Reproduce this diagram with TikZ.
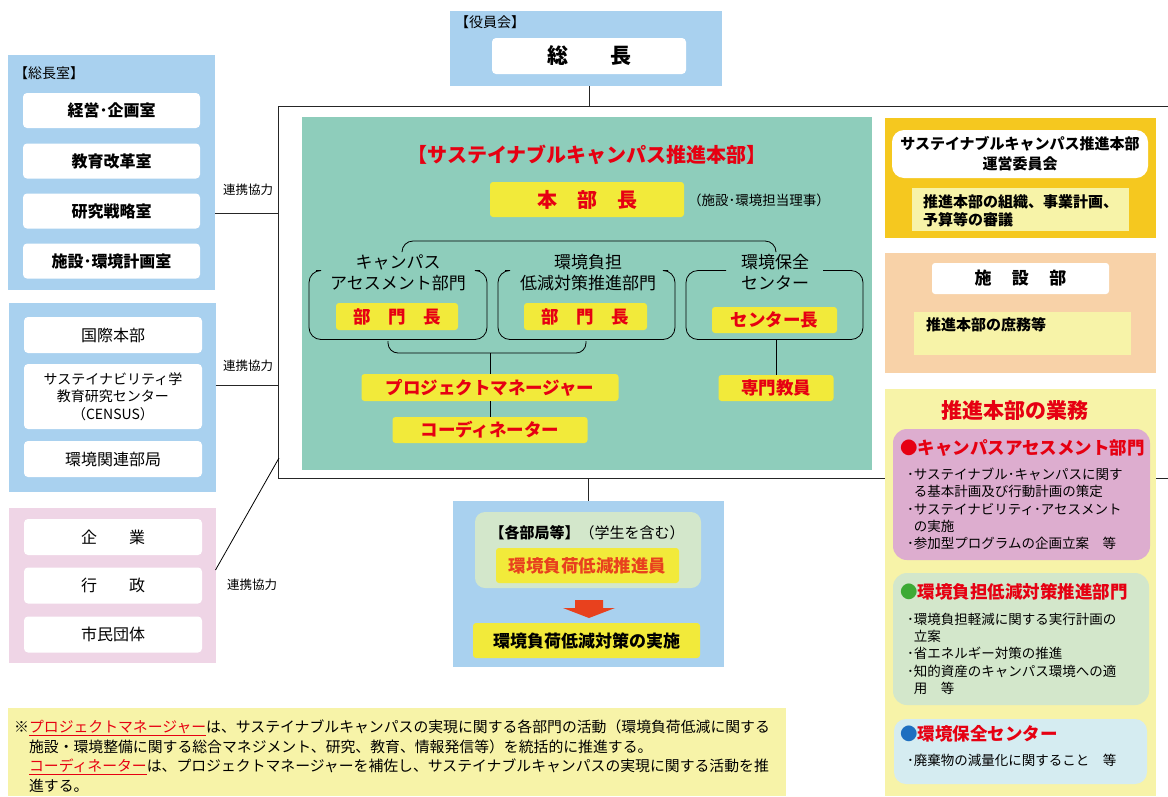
\documentclass[tikz,border=0pt]{standalone}
\usepackage{fontspec}
\setmainfont{Noto Sans CJK JP}
\usetikzlibrary{calc}
\definecolor{lblue}{HTML}{A9D1EF}
\definecolor{tgreen}{HTML}{8ECDBB}
\definecolor{yelbox}{HTML}{F2EA3A}
\definecolor{jred}{HTML}{E60012}
\definecolor{ored}{HTML}{E8411E}
\definecolor{gold}{HTML}{F5C81F}
\definecolor{peach}{HTML}{F8D2A8}
\definecolor{pale}{HTML}{F7F3A8}
\definecolor{lpink}{HTML}{EFD5E6}
\definecolor{mauve}{HTML}{DDADCF}
\definecolor{pgreen}{HTML}{D3E7CB}
\definecolor{pblue}{HTML}{D5ECF1}
\definecolor{dotgreen}{HTML}{3DAA35}
\definecolor{dotblue}{HTML}{1E6FC0}
\newcommand\fz[2]{\fontsize{#1}{#2}\selectfont}
\begin{document}
\begin{tikzpicture}[x=1pt,y=-1pt,
  box/.style={inner sep=0pt, outer sep=0pt},
  conn/.style={draw=black!85, line width=1pt},
  wbox/.style={box, fill=white, rounded corners=4pt},
  ylw/.style={box, fill=yelbox, rounded corners=3pt},
  redtxt/.style={text=jred, font=\bfseries\fz{17.5}{20}},
  ltxt/.style={font=\fz{12.5}{14}},
  bul/.style={anchor=north west, align=left, inner sep=0pt, font=\fz{13.5}{17.2}},
  head/.style={anchor=west, inner sep=0pt, text=jred, font=\bfseries\fz{17.5}{20}}
]
\useasboundingbox (0,0) rectangle (1168,796);
\fill[white] (0,0) rectangle (1168,796);

% ---- frame lines
\coordinate (ftl) at (278,106);
\coordinate (fbl) at (278,478);
\coordinate (ftr) at (1168,106);
\coordinate (fbr) at (1168,478);
\draw[conn] (ftr) -- (ftl) -- (fbl) -- (fbr);

% ---- top: yakuin
\node[box, fill=lblue, minimum width=272pt, minimum height=75pt] (yakuin) at (586,48.5) {};
\node[anchor=west, inner sep=0pt, font=\fz{14}{16}] (yakuinlbl) at (455,22) {【役員会】};
\node[wbox, minimum width=194pt, minimum height=36pt, font=\bfseries\fz{21}{24}] (socho) at (589,56) {総\hspace{2em}長};
\draw[conn] (yakuin.south -| socho.south) -- (socho.south |- ftl);

% ---- left: socho-shitsu
\node[box, fill=lblue, minimum width=207pt, minimum height=235pt] (soshitsu) at (111.5,172.5) {};
\node[anchor=west, inner sep=0pt, font=\fz{14}{16}] (soshitsulbl) at (14,73) {【総長室】};
\begin{scope}[every node/.style={wbox, minimum width=177pt, minimum height=35pt, font=\bfseries\fz{16}{19}}]
\node (k1) at (111.5,110.5) {経営･企画室};
\node (k2) at (111.5,161) {教育改革室};
\node (k3) at (111.5,211) {研究戦略室};
\node (k4) at (111.5,261) {施設･環境計画室};
\end{scope}
\coordinate (fl1) at (278,213);
\draw[conn] (soshitsu.east |- fl1) -- (fl1);
\node[ltxt] (lab1) at (248,190) {連携協力};

% ---- left: second blue
\node[box, fill=lblue, minimum width=207pt, minimum height=189pt] (kokusai) at (112,397.5) {};
\node[wbox, minimum width=178pt, minimum height=36pt, font=\fz{16}{19}] (g1) at (113,335) {国際本部};
\node[wbox, minimum width=178pt, minimum height=65pt, font=\fz{14}{17.5}, align=center] (g2) at (113,396.5) {サステイナビリティ学\\教育研究センター\\（CENSUS）};
\node[wbox, minimum width=178pt, minimum height=36pt, font=\fz{16}{19}] (g3) at (113,459) {環境関連部局};
\coordinate (fl2) at (278,385);
\draw[conn] (kokusai.east |- fl2) -- (fl2);
\node[ltxt] (lab2) at (248,366) {連携協力};

% ---- left: pink
\node[box, fill=lpink, minimum width=207pt, minimum height=155pt] (shakai) at (112,585.5) {};
\node[wbox, minimum width=178pt, minimum height=36pt, font=\fz{16}{19}] (s1) at (113,537) {企\hspace{2em}業};
\node[wbox, minimum width=178pt, minimum height=36pt, font=\fz{16}{19}] (s2) at (113,585.5) {行\hspace{2em}政};
\node[wbox, minimum width=178pt, minimum height=36pt, font=\fz{16}{19}] (s3) at (113,634.5) {市民団体};
\coordinate (fl3) at (279,458);
\draw[line width=0.8pt] (shakai.east |- 0,570) -- (fl3);
\node[ltxt] (lab3) at (252,585) {連携協力};

% ---- center: honbu
\node[box, fill=tgreen, minimum width=570pt, minimum height=353pt] (honbu) at (587,293.5) {};
\node[text=jred, font=\bfseries\fz{20}{24}] (title) at (587,155) {【サステイナブルキャンパス推進本部】};
\node[ylw, minimum width=194pt, minimum height=35pt, text=jred, font=\bfseries\fz{20}{24}] (hbc) at (587,199.5) {本\hspace{1em}部\hspace{1em}長};
\node[anchor=west, inner sep=0pt, font=\fz{13.5}{16}] (tanto) at (688,200) {（施設･環境担当理事）};

% dept boxes
\node[box, minimum width=178pt, minimum height=69pt] (d1) at (398,305) {};
\node[box, minimum width=177pt, minimum height=69pt] (d2) at (586.5,305) {};
\node[box, minimum width=177pt, minimum height=69pt] (d3) at (774.5,305) {};
\draw[line width=0.8pt, rounded corners=12pt] ($(d1.north west)+(7,0)$) -- (d1.north west) -- (d1.south west) -- (d1.south east) -- (d1.north east) -- ($(d1.north east)+(-7,0)$);
\draw[line width=0.8pt, rounded corners=12pt] ($(d2.north west)+(7,0)$) -- (d2.north west) -- (d2.south west) -- (d2.south east) -- (d2.north east) -- ($(d2.north east)+(-7,0)$);
\draw[line width=0.8pt, rounded corners=12pt] ($(d3.north west)+(40,0)$) -- (d3.north west) -- (d3.south west) -- (d3.south east) -- (d3.north east) -- ($(d3.north east)+(-40,0)$);
\node[font=\fz{17}{21}, align=center] (d1t) at (398,272.5) {キャンパス\\アセスメント部門};
\node[font=\fz{17}{21}, align=center] (d2t) at (588,272.5) {環境負担\\低減対策推進部門};
\node[font=\fz{17}{21}, align=center] (d3t) at (775,272.5) {環境保全\\センター};
\node[ylw, minimum width=122pt, minimum height=27pt, redtxt] (b1) at (397,316.5) {部\hspace{1em}門\hspace{1em}長};
\node[ylw, minimum width=123pt, minimum height=27pt, redtxt] (b2) at (585.5,316.5) {部\hspace{1em}門\hspace{1em}長};
\node[ylw, minimum width=125pt, minimum height=26pt, redtxt] (b3) at (774.5,320) {センター長};

% braces
\draw[line width=0.8pt, rounded corners=11pt] (402,251) -- (402,241) -- (776,241) -- (776,251);
\draw[line width=0.8pt, rounded corners=10pt] (388,341) -- (388,353) -- (586,353) -- (586,341);
\coordinate (bb) at (490,353);

\node[ylw, minimum width=257pt, minimum height=27pt, redtxt] (pm) at (490,387.5) {プロジェクトマネージャー};
\node[ylw, minimum width=195pt, minimum height=26pt, redtxt] (cd) at (490,430) {コーディネーター};
\node[ylw, minimum width=115pt, minimum height=26pt, redtxt] (sk) at (776,388) {専門教員};
\draw[line width=0.8pt] (bb) -- (pm.north);
\draw[line width=0.8pt] (pm.south) -- (cd.north);
\draw[line width=0.8pt] (d3.south -| sk.north) -- (sk.north);

% ---- bottom center
\node[box, fill=lblue, minimum width=271pt, minimum height=166pt] (kakubu) at (588,584) {};
\draw[conn] (kakubu.north |- fbl) -- (kakubu.north);
\node[box, fill=pgreen, rounded corners=10pt, minimum width=226pt, minimum height=76pt] (kin) at (588,550) {};
\node[font=\fz{15}{18}] (kakubut) at (587,533) {{\bfseries 【各部局等】}（学生を含む）};
\node[ylw, minimum width=183pt, minimum height=35pt, text=ored, font=\bfseries\fz{17.5}{20}] (sui) at (587.5,565.5) {環境負荷低減推進員};
\fill[ored] (575,600) -- (603,600) -- (603,608) -- (615,608) -- (589,618) -- (563,608) -- (575,608) -- cycle;
\node[ylw, minimum width=227pt, minimum height=35pt, font=\bfseries\fz{17}{20}] (jis) at (586.5,640.5) {環境負荷低減対策の実施};

% ---- right column
\node[box, fill=gold, minimum width=271pt, minimum height=120pt] (unei) at (1020.5,178) {};
\node[box, fill=white, rounded corners=12pt, minimum width=256pt, minimum height=48pt, font=\bfseries\fz{15}{20}, align=center] (uneit) at (1020,154) {サステイナブルキャンパス推進本部\\運営委員会};
\node[box, fill=pale, minimum width=217pt, minimum height=43pt] (uneid) at (1020.5,209.5) {};
\node[anchor=west, inner sep=0pt, font=\bfseries\fz{15}{18}, align=left] (uneidt) at (923,211) {推進本部の組織、事業計画、\\予算等の審議};

\node[box, fill=peach, minimum width=271pt, minimum height=120pt] (shisetsu) at (1020.5,313) {};
\node[box, fill=white, rounded corners=3pt, minimum width=177pt, minimum height=31pt, font=\bfseries\fz{17}{20}] (shisetsut) at (1020.5,278.5) {施\hspace{1.2em}設\hspace{1.2em}部};
\node[box, fill=pale, minimum width=217pt, minimum height=43pt] (shisetsud) at (1022.5,333.5) {};
\node[anchor=west, inner sep=0pt, font=\bfseries\fz{15}{18}] (shisetsudt) at (926,325) {推進本部の庶務等};

\node[box, fill=pale, minimum width=271pt, minimum height=407pt] (gyomu) at (1020.5,592.5) {};
\node[text=jred, font=\bfseries\fz{21}{24}] (gyomut) at (1015,411) {推進本部の業務};

\node[box, fill=mauve, rounded corners=14pt, minimum width=257pt, minimum height=131pt] (c1) at (1021.5,494.5) {};
\node[head] (c1h) at (900,448) {●キャンパスアセスメント部門};
\node[bul] (c1b) at (907,468) {･サステイナブル･キャンパスに関す\\\hspace*{0.5em}る基本計画及び行動計画の策定\\･サステイナビリティ･アセスメント\\\hspace*{0.5em}の実施\\･参加型プログラムの企画立案\hspace{1em}等};

\node[box, fill=pgreen, rounded corners=14pt, minimum width=256pt, minimum height=132pt] (c2) at (1021,639) {};
\node[head] (c2h) at (900,592) {{\color{dotgreen}●}環境負担低減対策推進部門};
\node[bul] (c2b) at (907,613) {･環境負担軽減に関する実行計画の\\\hspace*{0.5em}立案\\･省エネルギー対策の推進\\･知的資産のキャンパス環境への適\\\hspace*{0.5em}用\hspace{1em}等};

\node[box, fill=pblue, rounded corners=12pt, minimum width=253pt, minimum height=65pt] (c3) at (1020.5,751.5) {};
\node[head] (c3h) at (900,734) {{\color{dotblue}●}環境保全センター};
\node[bul] (c3b) at (907,754) {･廃棄物の減量化に関すること\hspace{1em}等};

% ---- footnote
\node[box, fill=pale, minimum width=778pt, minimum height=88pt] (note) at (397,752) {};
\node[anchor=north west, inner sep=0pt, align=left, font=\fz{14.85}{19.5}] (notet) at (14,720) {※\textcolor{jred}{\underline{プロジェクトマネージャー}}は、サステイナブルキャンパスの実現に関する各部門の活動（環境負荷低減に関する\\
\hspace*{1em}施設・環境整備に関する総合マネジメント、研究、教育、情報発信等）を統括的に推進する。\\
\hspace*{1em}\textcolor{jred}{\underline{コーディネーター}}は、プロジェクトマネージャーを補佐し、サステイナブルキャンパスの実現に関する活動を推\\
\hspace*{1em}進する。};
\end{tikzpicture}
\end{document}
